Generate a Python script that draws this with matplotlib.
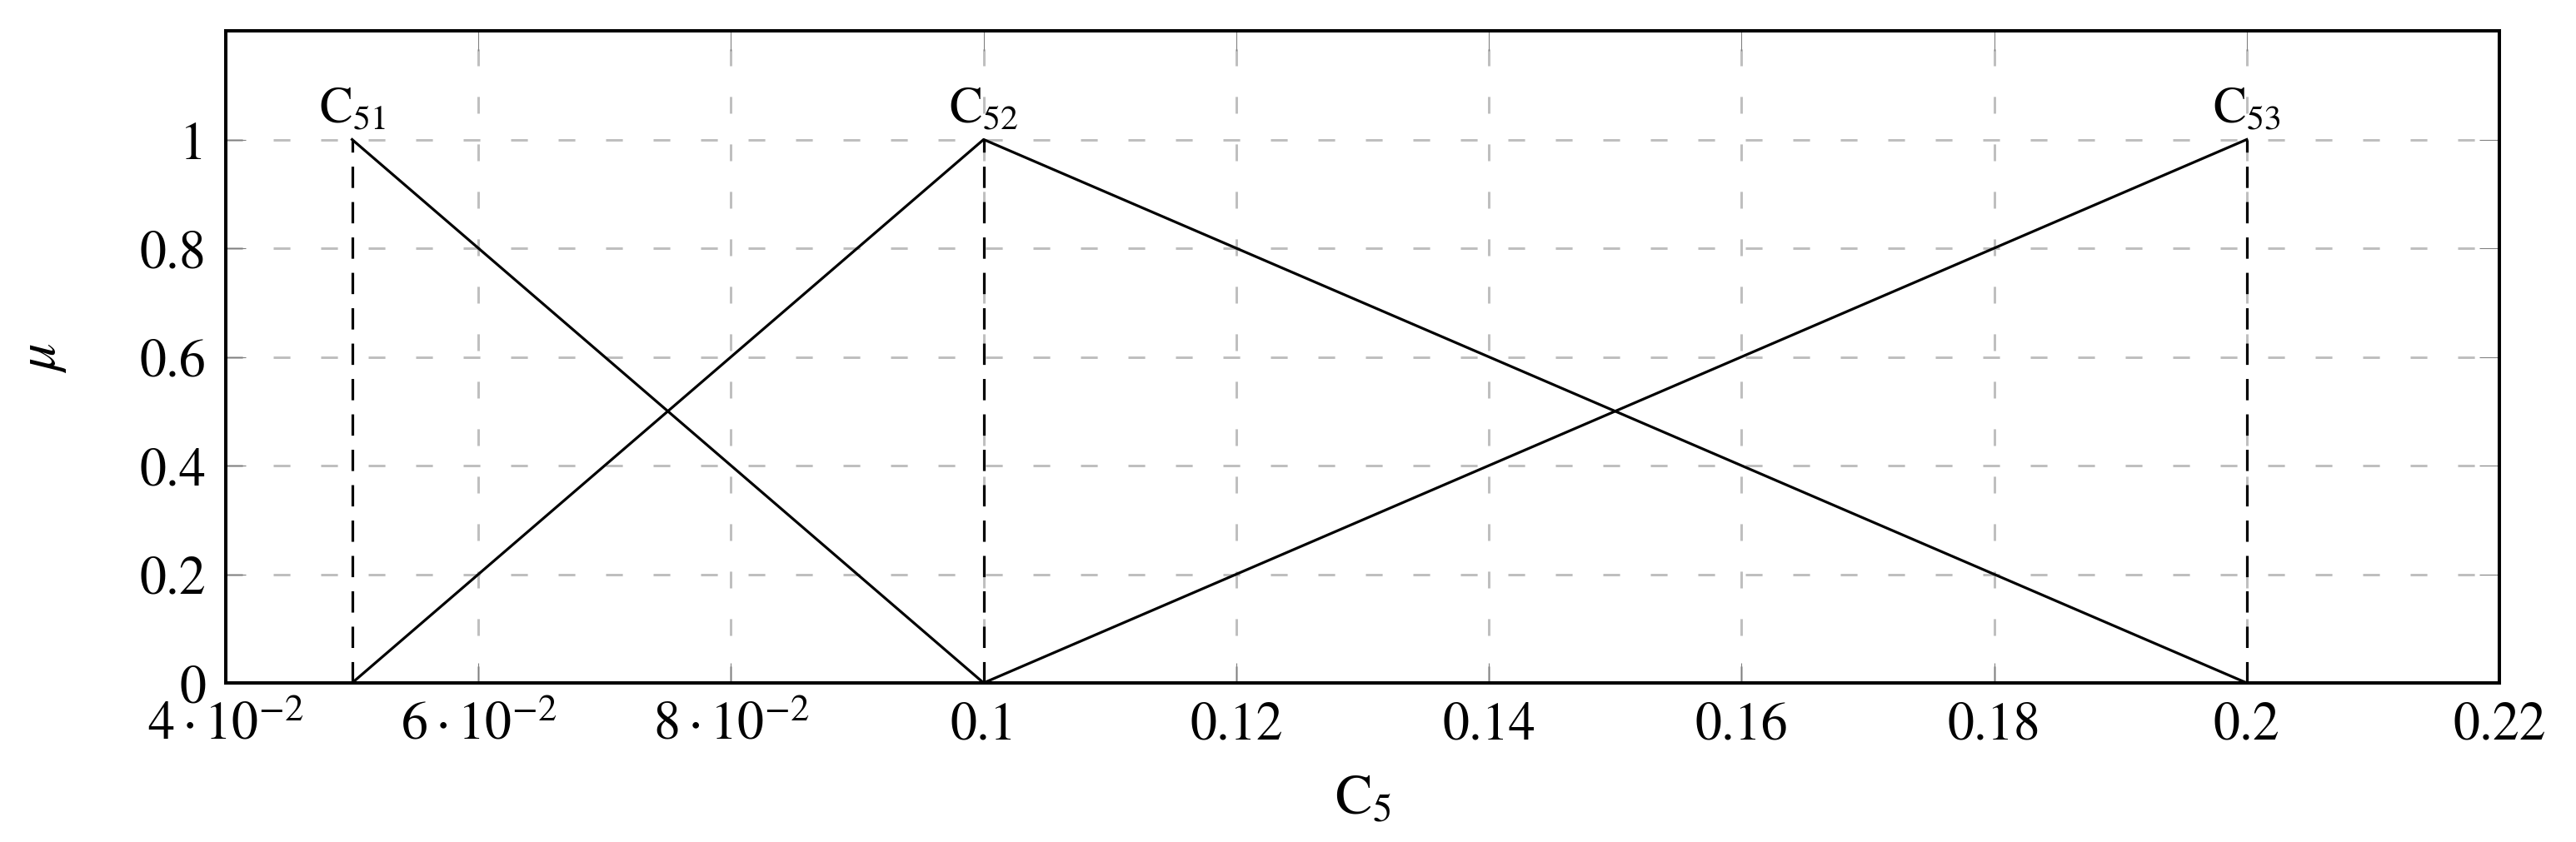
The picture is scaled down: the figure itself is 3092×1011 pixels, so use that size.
import matplotlib.pyplot as plt
import numpy as np

# membership functions of C5 (triangles)
c51_x = [0.05, 0.1]
c51_y = [1, 0]
c52_x = [0.05, 0.1, 0.2]
c52_y = [0, 1, 0]
c53_x = [0.1, 0.2]
c53_y = [0, 1]

peaks = [0.05, 0.1, 0.2]
peak_names = ['51', '52', '53']

x_ticks = [0.04, 0.06, 0.08, 0.1, 0.12, 0.14, 0.16, 0.18, 0.2, 0.22]
x_tick_labels = [r'$4\cdot10^{-2}$', r'$6\cdot10^{-2}$', r'$8\cdot10^{-2}$',
                 '0.1', '0.12', '0.14', '0.16', '0.18', '0.2', '0.22']
y_ticks = [0, 0.2, 0.4, 0.6, 0.8, 1]
y_tick_labels = ['0', '0.2', '0.4', '0.6', '0.8', '1']

plt.rcParams['font.family'] = ['STIXGeneral', 'DejaVu Serif']
plt.rcParams['mathtext.fontset'] = 'stix'

W, H = 3092, 1012
fig = plt.figure(figsize=(W / 100, H / 100), dpi=100)
# axes box in pixels: left 271, right 3000, top 38, bottom 821
ax = fig.add_axes([271 / W, 1 - 821 / H, (3000 - 271) / W, (821 - 38) / H])

ax.set_xlim(0.04, 0.22)
ax.set_ylim(0, 1.2)

ax.grid(True, color='#bfbfbf', linestyle=(0, (6.7, 12.3)), linewidth=2.16)
ax.set_axisbelow(True)

lw = 2.3
ax.plot(c51_x, c51_y, color='black', linewidth=lw)
ax.plot(c52_x, c52_y, color='black', linewidth=lw)
ax.plot(c53_x, c53_y, color='black', linewidth=lw)

# dashed drop lines under the peaks + labels
for p, name in zip(peaks, peak_names):
    ax.plot([p, p], [0, 1], color='black', linewidth=lw, linestyle=(0, (8, 5.3)))
    ax.annotate(r'$\mathrm{C}_{' + name + '}$', xy=(p, 1), xytext=(0, 6),
                textcoords='offset points', ha='center', va='bottom', fontsize=43)

ax.set_xticks(x_ticks)
ax.set_xticklabels(x_tick_labels)
ax.set_yticks(y_ticks)
ax.set_yticklabels(y_tick_labels)
ax.tick_params(direction='in', length=17, width=0.8, color='#808080',
               labelsize=46, labelcolor='black', top=True, right=True)
ax.tick_params(axis='y', pad=17)
ax.tick_params(axis='x', pad=48)
for lab in ax.get_xticklabels():
    lab.set_va('baseline')

for s in ax.spines.values():
    s.set_linewidth(2.9)

ax.set_xlabel(r'$\mathrm{C}_5$', fontsize=48)
ax.xaxis.label.set_va('center')
ax.xaxis.set_label_coords(0.5, (821 - 962) / 783)
ax.set_ylabel(r'$\mu$', fontsize=48)
ax.yaxis.label.set_va('center')
ax.yaxis.set_label_coords((52 - 271) / 2729, 0.5)

fig.savefig('out.png', dpi=100)
